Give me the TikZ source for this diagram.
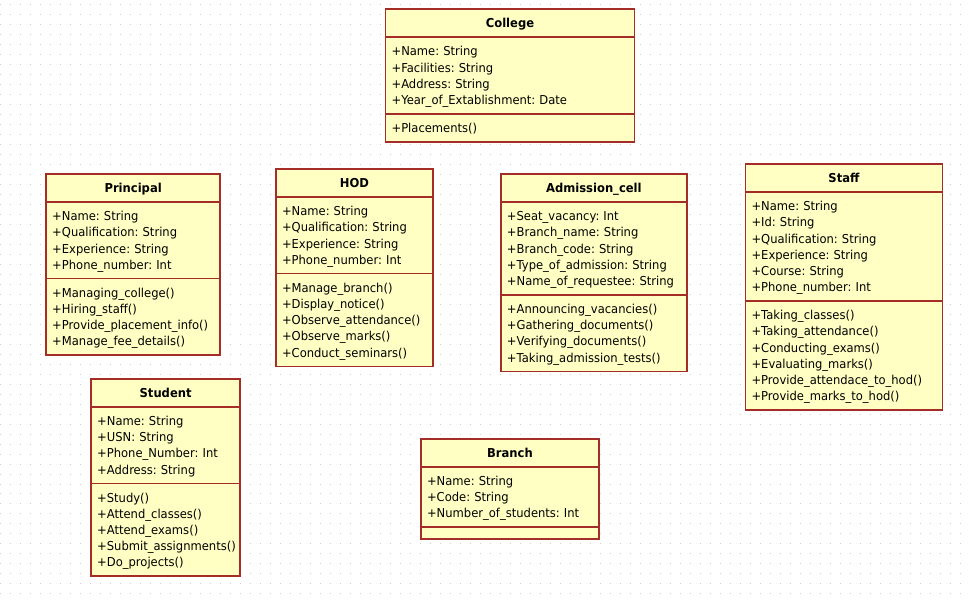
\documentclass[tikz,border=0pt]{standalone}
\usepackage{fontspec}
\setmainfont{DejaVu Sans}[FakeStretch=0.94]
\usetikzlibrary{shapes.multipart}
\definecolor{classfill}{RGB}{255,255,196}
\definecolor{classline}{RGB}{165,45,40}
\definecolor{griddot}{RGB}{205,205,205}
\newcommand\ustr{\rule[-3.4pt]{0pt}{16.2pt}}

\begin{document}
\begin{tikzpicture}[x=1pt,y=-1pt,
    umlclass/.style={rectangle split, rectangle split parts=3,
      draw=classline, fill=classfill, line width=1.6pt, outer sep=0pt,
      inner xsep=6pt, inner ysep=5.1pt, anchor=north west, align=left,
      font=\fontsize{12.3}{16.2}\selectfont\frenchspacing},
    dots/.style={griddot, line width=1pt, dash pattern=on 1pt off 9pt}]
  \def\cname#1{\makebox[\hsize]{\bfseries\ustr#1}}

  \fill[white] (0,0) rectangle (969,601);
  \foreach \j in {0,...,59}
    \draw[dots] (0,\j*10+4.5) -- (969,\j*10+4.5);

  \node[umlclass, text width=237pt] (college) at (385.5,9.3)
    {\cname{College}
     \nodepart{second}\ustr+Name: String\\+Facilities: String\\+Address: String\\
       +Year\_of\_Extablishment: Date\ustr
     \nodepart{third}\ustr+Placements()\ustr};

  \node[umlclass, text width=162pt] (principal) at (45.8,174.3)
    {\cname{Principal}
     \nodepart{second}\ustr+Name: String\\+Qualification: String\\+Experience: String\\
       +Phone\_number: Int\ustr
     \nodepart{third}\ustr+Managing\_college()\\+Hiring\_staff()\\
       +Provide\_placement\_info()\\+Manage\_fee\_details()\ustr};

  \node[umlclass, text width=145pt] (hod) at (275.8,169.3)
    {\cname{HOD}
     \nodepart{second}\ustr+Name: String\\+Qualification: String\\+Experience: String\\
       +Phone\_number: Int\ustr
     \nodepart{third}\ustr+Manage\_branch()\\+Display\_notice()\\+Observe\_attendance()\\
       +Observe\_marks()\\+Conduct\_seminars()\ustr};

  \node[umlclass, text width=174pt] (admission) at (501,174.3)
    {\cname{Admission\_cell}
     \nodepart{second}\ustr+Seat\_vacancy: Int\\+Branch\_name: String\\+Branch\_code: String\\
       +Type\_of\_admission: String\\+Name\_of\_requestee: String\ustr
     \nodepart{third}\ustr+Announcing\_vacancies()\\+Gathering\_documents()\\
       +Verifying\_documents()\\+Taking\_admission\_tests()\ustr};

  \node[umlclass, text width=185pt] (staff) at (745.8,164.3)
    {\cname{Staff}
     \nodepart{second}\ustr+Name: String\\+Id: String\\+Qualification: String\\
       +Experience: String\\+Course: String\\+Phone\_number: Int\ustr
     \nodepart{third}\ustr+Taking\_classes()\\+Taking\_attendance()\\+Conducting\_exams()\\
       +Evaluating\_marks()\\+Provide\_attendace\_to\_hod()\\+Provide\_marks\_to\_hod()\ustr};

  \node[umlclass, text width=137pt] (student) at (90.8,379.3)
    {\cname{Student}
     \nodepart{second}\ustr+Name: String\\+USN: String\\+Phone\_Number: Int\\
       +Address: String\ustr
     \nodepart{third}\ustr+Study()\\+Attend\_classes()\\+Attend\_exams()\\
       +Submit\_assignments()\\+Do\_projects()\ustr};

  \node[umlclass, text width=166pt] (branch) at (421,439.3)
    {\cname{Branch}
     \nodepart{second}\ustr+Name: String\\+Code: String\\+Number\_of\_students: Int\ustr
     \nodepart{third}};
\end{tikzpicture}
\end{document}
